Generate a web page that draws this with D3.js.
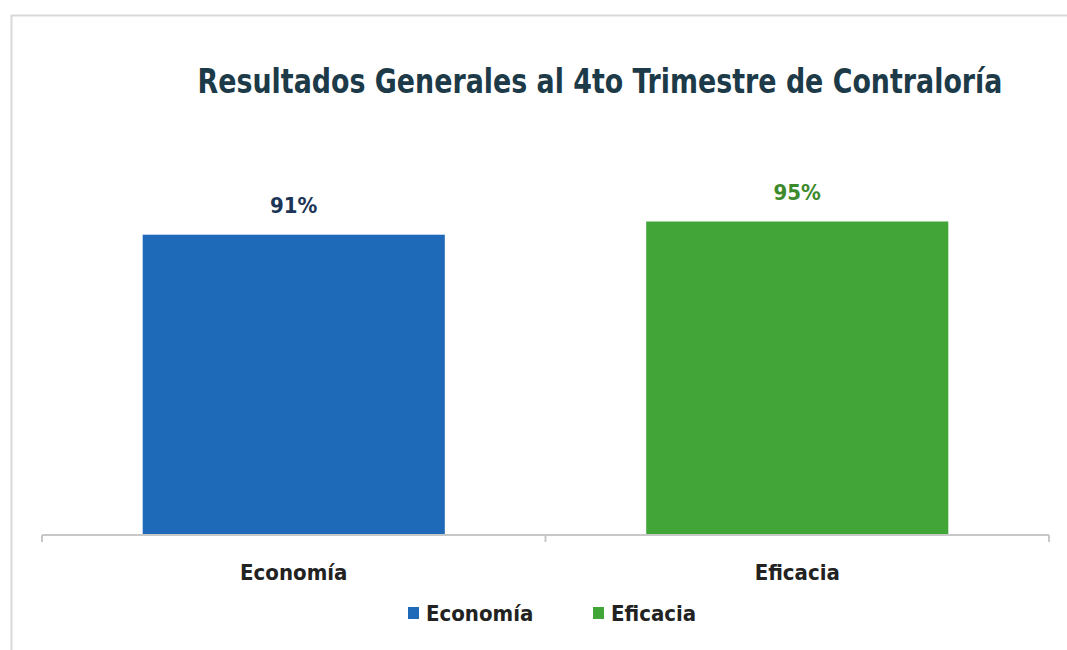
<!DOCTYPE html>
<html><head><meta charset="utf-8">
<script src="https://cdn.jsdelivr.net/npm/d3@7"></script>
<style>body{margin:0;background:#fff}svg{display:block}</style>
</head><body>
<svg id="c" width="1067" height="650"></svg>
<script>
const categories = ["Economía", "Eficacia"];
const values = [0.91, 0.95];
const valueLabels = ["91%", "95%"];
const colors = ["#1f69b9", "#41a637"];
const labelColors = ["#1c3557", "#3d8a2c"];
const titleText = "Resultados Generales al 4to Trimestre de Contraloría";

const svg = d3.select("#c");
const font = "'DejaVu Sans Condensed', 'DejaVu Sans', sans-serif";

// frame
svg.append("path").attr("d","M11.5,650 V15.5 H1067").attr("fill","none").attr("stroke","#d9d9d9").attr("stroke-width",2);

const x = d3.scaleBand().domain(categories).range([42, 1049]).paddingInner(0.4).paddingOuter(0.2);
const y = d3.scaleLinear().domain([0, 1]).range([535, 205]);

// title: fit to the reference width (~805px), slightly taller glyphs
const titleG = svg.append("g");
const title = titleG.append("text").attr("x", 0).attr("y", 0).attr("text-anchor","middle")
  .attr("font-family", font).attr("font-weight","bold").attr("font-size", 30)
  .attr("fill","#1c3a48").text(titleText);
const tw = title.node().getComputedTextLength();
const sx = Math.min(1, 805 / tw);
titleG.attr("transform", `translate(600,93) scale(${sx},1.13)`);

svg.selectAll("rect.bar").data(values).join("rect").attr("class","bar")
  .attr("x",(d,i)=>x(categories[i])).attr("width",x.bandwidth())
  .attr("y",d=>y(d)).attr("height",d=>y(0)-y(d)).attr("fill",(d,i)=>colors[i]);

svg.selectAll("text.vl").data(values).join("text").attr("class","vl")
  .attr("x",(d,i)=>x(categories[i])+x.bandwidth()/2).attr("y",d=>y(d)-22)
  .attr("text-anchor","middle").attr("font-family",font).attr("font-weight","bold")
  .attr("font-size",22).attr("fill",(d,i)=>labelColors[i]).text((d,i)=>valueLabels[i]);

// axis
const axisG = svg.append("g").attr("transform","translate(0,535)");
const xAxis = d3.axisBottom(x).tickSize(0).tickPadding(29);
axisG.call(xAxis);
axisG.select(".domain").remove();
axisG.append("line").attr("x1",42).attr("x2",1049).attr("stroke","#c8c8c8").attr("stroke-width",2);
const edges = [42, (x(categories[0])+x.bandwidth()+x(categories[1]))/2, 1049];
axisG.selectAll("line.tk").data(edges).join("line").attr("class","tk")
  .attr("x1",d=>d).attr("x2",d=>d).attr("y1",0).attr("y2",7).attr("stroke","#c8c8c8").attr("stroke-width",2);
axisG.selectAll(".tick text").attr("font-family",font).attr("font-weight","bold")
  .attr("font-size",22).attr("fill","#222");

// legend
const legendX = [408, 593];
const lg = svg.selectAll("g.lg").data(categories).join("g").attr("class","lg")
  .attr("transform",(d,i)=>`translate(${legendX[i]},607)`);
lg.append("rect").attr("width",11).attr("height",12).attr("fill",(d,i)=>colors[i]);
lg.append("text").attr("x",18).attr("y",14).attr("font-family",font).attr("font-weight","bold")
  .attr("font-size",22).attr("fill","#222").text(d=>d);
</script>
</body></html>
